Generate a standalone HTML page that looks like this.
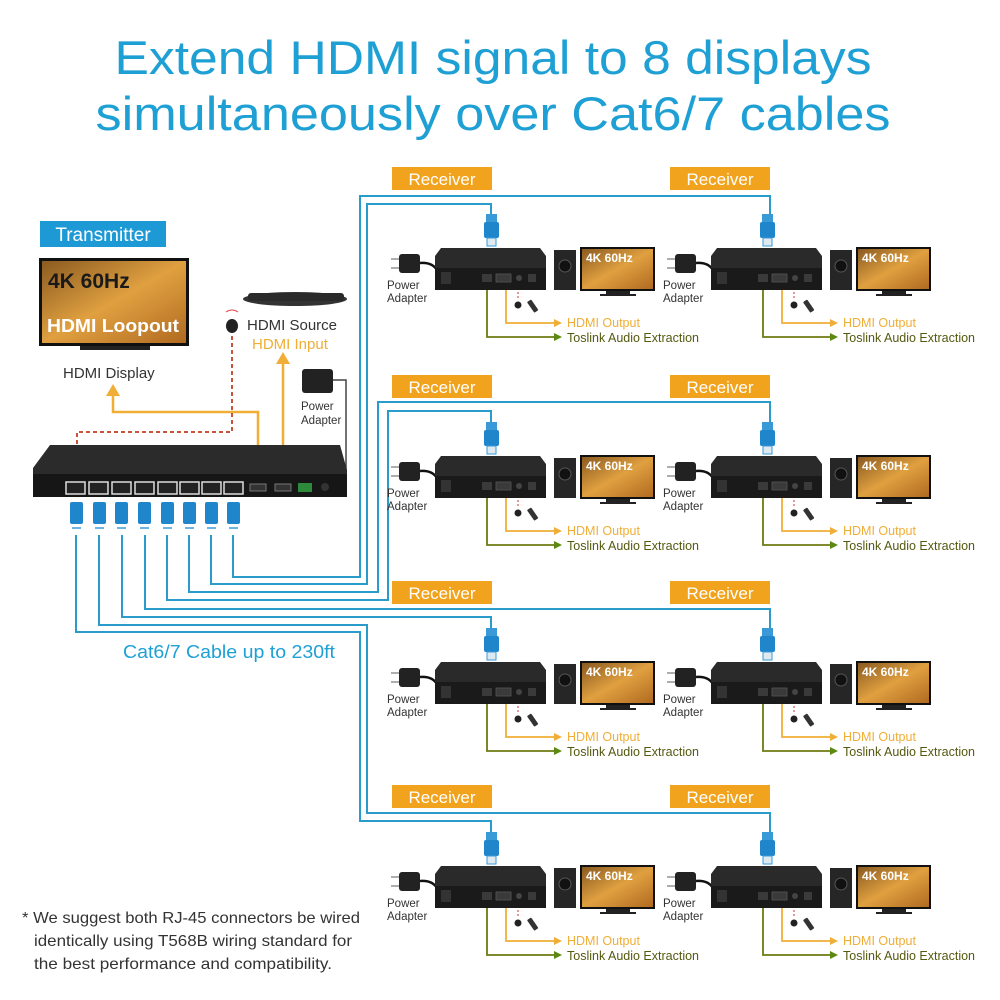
<!DOCTYPE html>
<html><head><meta charset="utf-8"><style>
html,body{margin:0;padding:0;background:#fff;}
svg{display:block;font-family:"Liberation Sans",sans-serif;}
</style></head><body>
<svg width="1000" height="1000" viewBox="0 0 1000 1000" xmlns="http://www.w3.org/2000/svg">
<defs>
<linearGradient id="scr" x1="0" y1="0" x2="1" y2="1">
<stop offset="0" stop-color="#8a5a20"/><stop offset="0.5" stop-color="#e0a040"/><stop offset="1" stop-color="#b06a20"/>
</linearGradient>
<symbol id="rx" overflow="visible">
<rect x="486" y="214" width="11" height="8" fill="#3a9ad8"/>
<rect x="484" y="222" width="15" height="16" rx="2" fill="#1f86cc"/>
<rect x="487" y="238" width="9" height="8" fill="#dfe9f0" stroke="#3a9ad8" stroke-width="1"/>
<line x1="391" y1="259" x2="399" y2="259" stroke="#777" stroke-width="1.2"/>
<line x1="391" y1="268" x2="399" y2="268" stroke="#777" stroke-width="1.2"/>
<rect x="399" y="254" width="21" height="19" rx="3" fill="#222"/>
<path d="M420 263 Q432 262 437 270" stroke="#111" stroke-width="2.5" fill="none"/>
<path d="M441 248 H540 L546 256 V290 H435 V256 Z" fill="#2a2a2a"/>
<rect x="435" y="268" width="111" height="22" fill="#1a1a1a"/>
<rect x="441" y="272" width="10" height="12" fill="#333"/>
<rect x="482" y="274" width="10" height="8" fill="#3a3a3a"/>
<rect x="496" y="274" width="15" height="8" fill="#3a3a3a" stroke="#555" stroke-width="0.8"/>
<circle cx="519" cy="278" r="3" fill="#444"/>
<rect x="528" y="274" width="8" height="8" fill="#3a3a3a"/>
<rect x="554" y="250" width="22" height="40" fill="#262626"/>
<circle cx="565" cy="266" r="6" fill="#111" stroke="#555"/>
<rect x="580" y="247" width="75" height="44" fill="#111"/>
<rect x="582" y="249" width="71" height="40" fill="url(#scr)"/>
<rect x="606" y="291" width="24" height="3" fill="#222"/>
<rect x="600" y="294" width="36" height="2" fill="#222"/>
<path d="M487 290 V337 H555" stroke="#6e7a10" stroke-width="1.8" fill="none"/>
<path d="M554 333 L562 337 L554 341 Z" fill="#5c8a10"/>
<path d="M506 290 V323 H555" stroke="#f0ae36" stroke-width="1.8" fill="none"/>
<path d="M554 319 L562 323 L554 327 Z" fill="#f0ae36"/>
<line x1="518" y1="292" x2="518" y2="300" stroke="#c33" stroke-width="1" stroke-dasharray="2,2"/>
<circle cx="518" cy="305" r="3.5" fill="#222"/>
<rect x="530" y="300" width="5" height="13" rx="1" fill="#333" transform="rotate(-35 532 306)"/>
</symbol>
</defs>

<text x="493" y="74" font-size="47" fill="#1ea0d5" text-anchor="middle" textLength="757" lengthAdjust="spacingAndGlyphs">Extend HDMI signal to 8 displays</text>
<text x="493" y="130" font-size="47" fill="#1ea0d5" text-anchor="middle" textLength="795" lengthAdjust="spacingAndGlyphs">simultaneously over Cat6/7 cables</text>

<g stroke="#2a9ccc" stroke-width="2" fill="none">
<path d="M233 535 V577 H360 V196 H770 V214"/>
<path d="M211 535 V584 H367 V204 H491 V214"/>
<path d="M189 535 V592 H378 V402 H770 V422"/>
<path d="M167 535 V600 H388 V411 H491 V422"/>
<path d="M145 535 V609 H770 V628"/>
<path d="M122 535 V617 H491 V628"/>
<path d="M99 535 V625 H367 V813 H770 V832"/>
<path d="M76 535 V632 H360 V821 H491 V832"/>
</g>

<use href="#rx" x="0" y="0"/><use href="#rx" x="276" y="0"/>
<use href="#rx" x="0" y="208"/><use href="#rx" x="276" y="208"/>
<use href="#rx" x="0" y="414"/><use href="#rx" x="276" y="414"/>
<use href="#rx" x="0" y="618"/><use href="#rx" x="276" y="618"/>

<g font-size="17" fill="#fff" text-anchor="middle">
<rect x="392" y="167" width="100" height="23" fill="#f2a31e"/><text x="442" y="185">Receiver</text>
<rect x="670" y="167" width="100" height="23" fill="#f2a31e"/><text x="720" y="185">Receiver</text>
<rect x="392" y="375" width="100" height="23" fill="#f2a31e"/><text x="442" y="393">Receiver</text>
<rect x="670" y="375" width="100" height="23" fill="#f2a31e"/><text x="720" y="393">Receiver</text>
<rect x="392" y="581" width="100" height="23" fill="#f2a31e"/><text x="442" y="599">Receiver</text>
<rect x="670" y="581" width="100" height="23" fill="#f2a31e"/><text x="720" y="599">Receiver</text>
<rect x="392" y="785" width="100" height="23" fill="#f2a31e"/><text x="442" y="803">Receiver</text>
<rect x="670" y="785" width="100" height="23" fill="#f2a31e"/><text x="720" y="803">Receiver</text>
</g>

<g font-size="11.5" fill="#333">
<text x="387" y="289">Power</text><text x="387" y="302">Adapter</text>
<text x="663" y="289">Power</text><text x="663" y="302">Adapter</text>
<text x="387" y="497">Power</text><text x="387" y="510">Adapter</text>
<text x="663" y="497">Power</text><text x="663" y="510">Adapter</text>
<text x="387" y="703">Power</text><text x="387" y="716">Adapter</text>
<text x="663" y="703">Power</text><text x="663" y="716">Adapter</text>
<text x="387" y="907">Power</text><text x="387" y="920">Adapter</text>
<text x="663" y="907">Power</text><text x="663" y="920">Adapter</text>
</g>
<g font-size="12.5" fill="#f0ae36">
<text x="567" y="327">HDMI Output</text><text x="843" y="327">HDMI Output</text>
<text x="567" y="535">HDMI Output</text><text x="843" y="535">HDMI Output</text>
<text x="567" y="741">HDMI Output</text><text x="843" y="741">HDMI Output</text>
<text x="567" y="945">HDMI Output</text><text x="843" y="945">HDMI Output</text>
</g>
<g font-size="12.5" fill="#555a10">
<text x="567" y="342">Toslink Audio Extraction</text><text x="843" y="342">Toslink Audio Extraction</text>
<text x="567" y="550">Toslink Audio Extraction</text><text x="843" y="550">Toslink Audio Extraction</text>
<text x="567" y="756">Toslink Audio Extraction</text><text x="843" y="756">Toslink Audio Extraction</text>
<text x="567" y="960">Toslink Audio Extraction</text><text x="843" y="960">Toslink Audio Extraction</text>
</g>
<g font-size="12" font-weight="bold" fill="#fff">
<text x="586" y="262">4K 60Hz</text><text x="862" y="262">4K 60Hz</text>
<text x="586" y="470">4K 60Hz</text><text x="862" y="470">4K 60Hz</text>
<text x="586" y="676">4K 60Hz</text><text x="862" y="676">4K 60Hz</text>
<text x="586" y="880">4K 60Hz</text><text x="862" y="880">4K 60Hz</text>
</g>

<rect x="40" y="221" width="126" height="26" fill="#1d9ad6"/>
<text x="103" y="241" font-size="19" fill="#fff" text-anchor="middle">Transmitter</text>
<rect x="39" y="258" width="150" height="88" fill="#111"/>
<rect x="42" y="261" width="144" height="82" fill="url(#scr)"/>
<rect x="80" y="346" width="70" height="4" fill="#222"/>
<text x="48" y="288" font-size="21" font-weight="bold" fill="#1a1a1a">4K 60Hz</text>
<text x="47" y="332" font-size="18" font-weight="bold" fill="#fff" textLength="132" lengthAdjust="spacingAndGlyphs">HDMI Loopout</text>
<text x="63" y="378" font-size="15" fill="#333">HDMI Display</text>

<ellipse cx="295" cy="299" rx="52" ry="7" fill="#333"/>
<rect x="248" y="293" width="96" height="8" rx="3" fill="#2a2a2a"/>
<path d="M226 312 Q232 308 238 312" stroke="#d44" fill="none"/>
<ellipse cx="232" cy="326" rx="6" ry="7" fill="#222"/>
<text x="247" y="330" font-size="15" fill="#333">HDMI Source</text>
<text x="252" y="349" font-size="15" fill="#f0ae36">HDMI Input</text>

<rect x="302" y="369" width="31" height="24" rx="3" fill="#222"/>
<text x="301" y="410" font-size="11.5" fill="#333">Power</text>
<text x="301" y="424" font-size="11.5" fill="#333">Adapter</text>
<path d="M333 380 H346 V484 H340" stroke="#444" stroke-width="1.5" fill="none"/>

<path d="M113 395 V412 H258 V485" stroke="#f0ae36" stroke-width="2.5" fill="none"/>
<path d="M106 396 L113 384 L120 396 Z" fill="#f0ae36"/>
<path d="M283 485 V362" stroke="#f0ae36" stroke-width="2.5" fill="none"/>
<path d="M276 364 L283 352 L290 364 Z" fill="#f0ae36"/>
<path d="M232 336 V432 H77 V445" stroke="#c8553a" stroke-width="2" stroke-dasharray="4,3" fill="none"/>

<path d="M50 445 H340 L347 470 V497 H33 V468 Z" fill="#2b2b2b"/>
<rect x="33" y="474" width="314" height="23" fill="#161616"/>
<g fill="#222" stroke="#ddd" stroke-width="1.5">
<rect x="66" y="482" width="19" height="12"/><rect x="89" y="482" width="19" height="12"/>
<rect x="112" y="482" width="19" height="12"/><rect x="135" y="482" width="19" height="12"/>
<rect x="158" y="482" width="19" height="12"/><rect x="180" y="482" width="19" height="12"/>
<rect x="202" y="482" width="19" height="12"/><rect x="224" y="482" width="19" height="12"/>
</g>
<rect x="250" y="484" width="16" height="7" fill="#333" stroke="#777"/>
<rect x="275" y="484" width="16" height="7" fill="#333" stroke="#777"/>
<rect x="298" y="483" width="14" height="9" fill="#2c8a3a"/>
<circle cx="325" cy="487" r="4" fill="#333"/>
<g fill="#1f86cc">
<rect x="70" y="502" width="13" height="22" rx="2"/><rect x="93" y="502" width="13" height="22" rx="2"/>
<rect x="115" y="502" width="13" height="22" rx="2"/><rect x="138" y="502" width="13" height="22" rx="2"/>
<rect x="161" y="502" width="13" height="22" rx="2"/><rect x="183" y="502" width="13" height="22" rx="2"/>
<rect x="205" y="502" width="13" height="22" rx="2"/><rect x="227" y="502" width="13" height="22" rx="2"/>
</g>
<g stroke="#3a9ad8" stroke-width="1.5">
<line x1="72" y1="528" x2="81" y2="528"/><line x1="95" y1="528" x2="104" y2="528"/>
<line x1="117" y1="528" x2="126" y2="528"/><line x1="140" y1="528" x2="149" y2="528"/>
<line x1="163" y1="528" x2="172" y2="528"/><line x1="185" y1="528" x2="194" y2="528"/>
<line x1="207" y1="528" x2="216" y2="528"/><line x1="229" y1="528" x2="238" y2="528"/>
</g>

<text x="123" y="658" font-size="18" fill="#1ea0d5" textLength="212" lengthAdjust="spacingAndGlyphs">Cat6/7 Cable up to 230ft</text>

<g font-size="16" fill="#333">
<text x="22" y="923" textLength="338" lengthAdjust="spacingAndGlyphs">* We suggest both RJ-45 connectors be wired</text>
<text x="34" y="946" textLength="318" lengthAdjust="spacingAndGlyphs">identically using T568B wiring standard for</text>
<text x="34" y="969" textLength="298" lengthAdjust="spacingAndGlyphs">the best performance and compatibility.</text>
</g>
</svg>
</body></html>
